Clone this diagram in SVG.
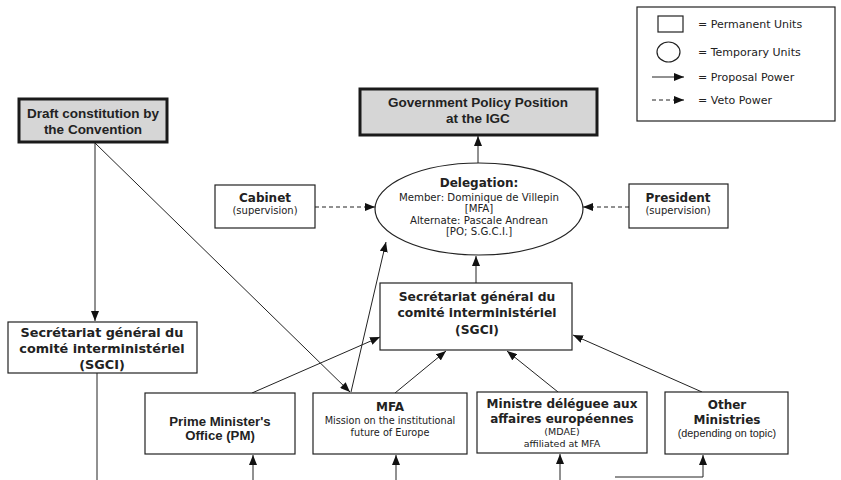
<svg xmlns="http://www.w3.org/2000/svg" width="841" height="480" viewBox="0 0 841 480">
<defs>
<marker id="ah" markerUnits="userSpaceOnUse" markerWidth="10" markerHeight="8" refX="10" refY="4" orient="auto">
<path d="M0,0 L10,4 L0,8 z" fill="#111"/>
</marker>
<style>
.box{fill:#fff;stroke:#222;stroke-width:1.2}
.dark{fill:#d6d6d6;stroke:#1a1a1a;stroke-width:3}
.ln{fill:none;stroke:#222;stroke-width:1}
.dash{fill:none;stroke:#222;stroke-width:1;stroke-dasharray:4,3}
.ab{font-family:"Liberation Sans",Arial,sans-serif;font-weight:bold;fill:#222;text-anchor:middle}
.ar{font-family:"Liberation Sans",Arial,sans-serif;fill:#222;text-anchor:middle}
.vb{font-family:"DejaVu Sans",Verdana,sans-serif;font-weight:bold;fill:#222;text-anchor:middle}
.vr{font-family:"DejaVu Sans",Verdana,sans-serif;fill:#222;text-anchor:middle}
.lg{font-family:"DejaVu Sans",Verdana,sans-serif;fill:#222;font-size:11px}
</style>
</defs>
<rect width="841" height="480" fill="#fff"/>

<g id="legend">
<rect x="637" y="7" width="198" height="114" fill="#fff" stroke="#222" stroke-width="1.2"/>
<rect x="658" y="16" width="25" height="16" class="box"/>
<text x="698" y="28" class="lg">= Permanent Units</text>
<ellipse cx="668.5" cy="52" rx="11.5" ry="10" class="box"/>
<text x="698" y="56" class="lg">= Temporary Units</text>
<line x1="652" y1="77" x2="684" y2="77" class="ln" marker-end="url(#ah)"/>
<text x="698" y="81" class="lg">= Proposal Power</text>
<line x1="652" y1="100" x2="684" y2="100" class="dash" marker-end="url(#ah)"/>
<text x="698" y="104" class="lg">= Veto Power</text>
</g>

<g id="connectors">
<line x1="478" y1="163" x2="478" y2="136" class="ln" marker-end="url(#ah)"/>
<line x1="315" y1="207" x2="375" y2="207" class="dash" marker-end="url(#ah)"/>
<line x1="629" y1="207" x2="583" y2="207" class="dash" marker-end="url(#ah)"/>
<line x1="476" y1="283" x2="476" y2="256" class="ln" marker-end="url(#ah)"/>
<line x1="95" y1="143" x2="95" y2="321" class="ln" marker-end="url(#ah)"/>
<line x1="95" y1="143" x2="350" y2="392" class="ln" marker-end="url(#ah)"/>
<line x1="351" y1="392" x2="386" y2="242" class="ln" marker-end="url(#ah)"/>
<line x1="252" y1="393" x2="380" y2="337" class="ln" marker-end="url(#ah)"/>
<line x1="395" y1="393" x2="446" y2="351" class="ln" marker-end="url(#ah)"/>
<line x1="558" y1="392" x2="507" y2="351" class="ln" marker-end="url(#ah)"/>
<line x1="702" y1="392" x2="573" y2="335" class="ln" marker-end="url(#ah)"/>
<line x1="97" y1="373" x2="97" y2="480" class="ln"/>
<line x1="253" y1="480" x2="253" y2="455" class="ln" marker-end="url(#ah)"/>
<line x1="396" y1="480" x2="396" y2="455" class="ln" marker-end="url(#ah)"/>
<line x1="560" y1="480" x2="560" y2="454" class="ln" marker-end="url(#ah)"/>
<polyline points="615,477 703,477 703,455" class="ln" marker-end="url(#ah)"/>
</g>

<g id="draft">
<rect x="19" y="99" width="148" height="43" class="dark"/>
<text x="93" y="118" class="ab" font-size="13.5">Draft constitution by</text>
<text x="93" y="134" class="ab" font-size="13.5">the Convention</text>
</g>

<g id="government">
<rect x="360" y="89" width="237" height="46" class="dark"/>
<text x="478" y="107" class="ab" font-size="13.5">Government Policy Position</text>
<text x="478" y="123" class="ab" font-size="13.5">at the IGC</text>
</g>

<g id="delegation">
<ellipse cx="479" cy="209" rx="104" ry="46" class="box"/>
<text x="479" y="187" class="vb" font-size="12">Delegation:</text>
<text x="479" y="201" class="vr" font-size="10.2">Member: Dominique de Villepin</text>
<text x="479" y="212" class="vr" font-size="10.2">[MFA]</text>
<text x="479" y="224" class="vr" font-size="10.2">Alternate: Pascale Andrean</text>
<text x="479" y="235" class="vr" font-size="10.2">[PO; S.G.C.I.]</text>
</g>

<g id="cabinet">
<rect x="215" y="185" width="100" height="43" class="box"/>
<text x="265" y="202" class="vb" font-size="12">Cabinet</text>
<text x="265" y="214" class="vr" font-size="10">(supervision)</text>
</g>

<g id="president">
<rect x="629" y="184" width="99" height="44" class="box"/>
<text x="678" y="202" class="vb" font-size="12">President</text>
<text x="678" y="214" class="vr" font-size="10">(supervision)</text>
</g>

<g id="sgci-central">
<rect x="380" y="283" width="192" height="67" class="box"/>
<text x="477" y="301" class="vb" font-size="12.3">Secrétariat général du</text>
<text x="477" y="317" class="vb" font-size="12.3">comité interministériel</text>
<text x="477" y="334" class="vb" font-size="12.3">(SGCI)</text>
</g>

<g id="sgci-left">
<rect x="8" y="322" width="189" height="51" class="box"/>
<text x="102" y="337" class="vb" font-size="12.8">Secrétariat général du</text>
<text x="102" y="353" class="vb" font-size="12.8">comité interministériel</text>
<text x="102" y="369" class="vb" font-size="12.8">(SGCI)</text>
</g>

<g id="pm">
<rect x="145" y="393" width="150" height="61" class="box"/>
<text x="220" y="426" class="ab" font-size="13.2">Prime Minister's</text>
<text x="220" y="440" class="ab" font-size="13.2">Office (PM)</text>
</g>

<g id="mfa">
<rect x="313" y="393" width="154" height="61" class="box"/>
<text x="390" y="411" class="vb" font-size="12">MFA</text>
<text x="390" y="424" class="vr" font-size="9.7">Mission on the institutional</text>
<text x="390" y="436" class="vr" font-size="9.7">future of Europe</text>
</g>

<g id="mdae">
<rect x="477" y="392" width="170" height="61" class="box"/>
<text x="562" y="408" class="vb" font-size="12">Ministre déléguee aux</text>
<text x="562" y="423" class="vb" font-size="12">affaires européennes</text>
<text x="562" y="435" class="vr" font-size="9.5">(MDAE)</text>
<text x="562" y="447" class="vr" font-size="9.5">affiliated at MFA</text>
</g>

<g id="other">
<rect x="665" y="392" width="123" height="62" class="box"/>
<text x="727" y="409" class="vb" font-size="12">Other</text>
<text x="727" y="424" class="vb" font-size="12">Ministries</text>
<text x="727" y="437" class="ar" font-size="10.8">(depending on topic)</text>
</g>
</svg>
